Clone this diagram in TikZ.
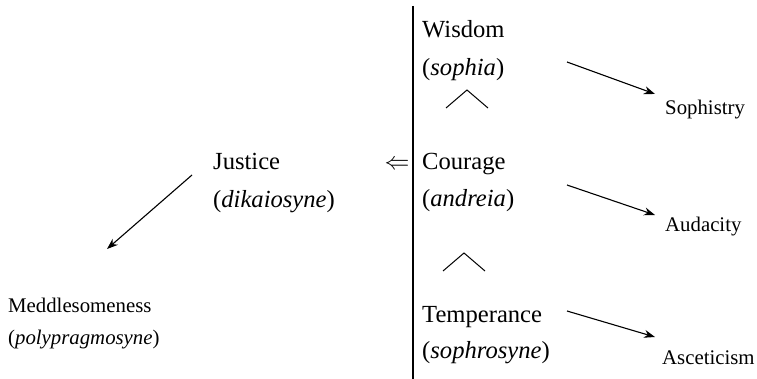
\documentclass[tikz,border=0pt]{standalone}
\usepackage{fontspec}
\setmainfont{Liberation Serif}
\usetikzlibrary{arrows.meta}
\tikzset{
  big/.style={anchor=base west, inner sep=0pt, font=\fontsize{24.6}{28}\selectfont},
  small/.style={anchor=base west, inner sep=0pt, font=\fontsize{20.8}{24}\selectfont},
  arr/.style={line width=1.1pt, -{Stealth[length=11pt,width=8pt]}},
  caret/.style={line width=1pt},
}
\begin{document}
\begin{tikzpicture}[x=1pt,y=-1pt]
\useasboundingbox (0,0) rectangle (757,379);
% vertical bar
\coordinate (bartop) at (413,6);
\coordinate (barbot) at (413,379);
\draw[line width=2.2pt] (bartop) -- (barbot);
% right column
\node[big] (wis) at (422,38) {Wisdom};
\node[big] (soph) at (422,76) {(\textit{sophia})};
\node[big] (cou) at (422,170) {Courage};
\node[big] (andr) at (422,207) {(\textit{andreia})};
\node[big] (tem) at (422,322) {Temperance};
\node[big] (sophr) at (422,358) {(\textit{sophrosyne})};
% justice
\node[big] (jus) at (213,170) {Justice};
\node[big] (dik) at (213,208) {(\textit{dikaiosyne})};
\node[inner sep=0pt, anchor=base, font=\fontsize{24}{28}\selectfont] (impl) at (397,170) {$\Leftarrow$};
% vices
\node[small] (med) at (8,312) {Meddlesomeness};
\node[small] (poly) at (8,344) {(\textit{polypragmosyne})};
\node[small] (sophy) at (665,115) {Sophistry};
\node[small] (aud) at (665,232) {Audacity};
\node[small] (asc) at (662,364) {Asceticism};
% arrow endpoints
\coordinate (a1s) at (567,62); \coordinate (a1e) at (655,94);
\coordinate (a2s) at (567,185); \coordinate (a2e) at (655,215);
\coordinate (a3s) at (567,311); \coordinate (a3e) at (655,337);
\coordinate (a4s) at (192,175); \coordinate (a4e) at (107,249);
\draw[arr] (a1s) -- (a1e);
\draw[arr] (a2s) -- (a2e);
\draw[arr] (a3s) -- (a3e);
\draw[arr] (a4s) -- (a4e);
% carets
\coordinate (c1l) at (446,108); \coordinate (c1t) at (467,90); \coordinate (c1r) at (488,108);
\coordinate (c2l) at (443,271); \coordinate (c2t) at (464,253); \coordinate (c2r) at (485,271);
\draw[caret] (c1l) -- (c1t) -- (c1r);
\draw[caret] (c2l) -- (c2t) -- (c2r);
\end{tikzpicture}
\end{document}
